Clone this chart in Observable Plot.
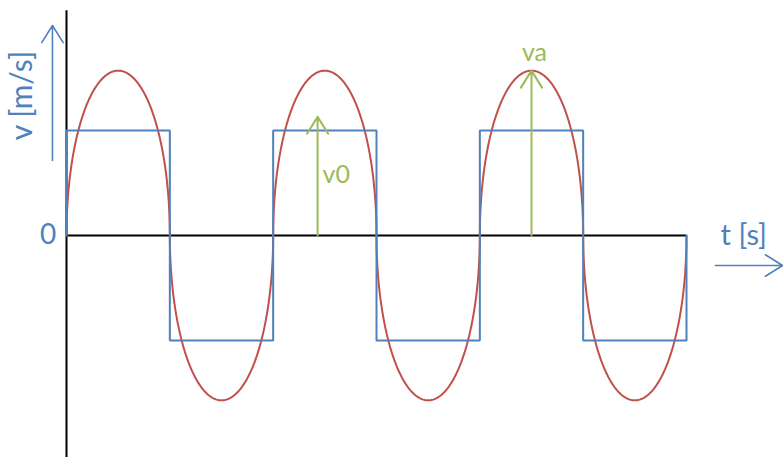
<!DOCTYPE html>
<html>
<head>
<meta charset="utf-8">
<script src="https://cdn.jsdelivr.net/npm/d3@7"></script>
<script src="https://cdn.jsdelivr.net/npm/@observablehq/plot@0.6"></script>
<style>
  html, body { margin: 0; padding: 0; background: #fff; }
  svg { display: block; }
</style>
</head>
<body>
<div id="chart"></div>
<script>
// ---- data (time in s, velocity in m/s; period T = 1 s) ----
const period = 1;             // s
const tEnd = 3;               // s (three periods shown)
const v0 = 1;                 // square-wave amplitude
const va = 1.57;              // peak of the red (rounded) wave
// half-period boundaries and sign of each red hump
const humpStart = [0, 0.5, 1, 1.5, 2, 2.5];
const humpSign = [1, -1, 1, -1, 1, -1];
// square-wave corner points
const squareT = [0, 0, 0.5, 0.5, 1, 1, 1.5, 1.5, 2, 2, 2.5, 2.5, 3, 3];
const squareV = [0, 1, 1, -1, -1, 1, 1, -1, -1, 1, 1, -1, -1, 0];
// annotation arrows (green)
const v0Arrow = { t: 1.215, from: 0, to: 1.13, label: "v0" };
const vaArrow = { t: 2.25, from: 0, to: 1.57, label: "va" };
// axis extents
const vAxisTop = 2.14, vAxisBottom = -2.2;
// axis-name arrows (blue)
const vNameArrow = { t: -0.068, from: 0.714, to: 2.0 };
const tNameArrow = { v: -0.286, from: 3.14, to: 3.465 };
const labels = { v: "v [m/s]", t: "t [s]", zero: "0" };

const blue = "#4f81bd", red = "#c0504d", green = "#9bbb59";

const square = squareT.map((t, i) => ({ t, v: squareV[i] }));
// each hump of the red wave is a half ellipse spanning one half-period
const half = period / 2;
const red_pts = [];
humpStart.forEach((t0, k) => {
  const n = 200;
  for (let i = (k === 0 ? 0 : 1); i <= n; i++) {
    const a = Math.PI * i / n;              // 0..π
    const t = t0 + half * (1 - Math.cos(a)) / 2;
    red_pts.push({ t, v: humpSign[k] * va * Math.sin(a) });
  }
});

const font = "Lato, 'Open Sans', sans-serif";

const chart = Plot.plot({
  width: 783,
  height: 457,
  margin: 0,
  style: { background: "#fff", fontFamily: font },
  x: { domain: [0, tEnd], range: [66, 686], axis: null },
  y: { domain: [-1, 1], range: [340, 130], axis: null },
  marks: [
    // axes
    Plot.ruleX([0], { y1: vAxisBottom, y2: vAxisTop, stroke: "#000", strokeWidth: 2 }),
    Plot.ruleY([0], { x1: 0, x2: tEnd, stroke: "#000", strokeWidth: 2 }),
    // rounded wave
    Plot.line(red_pts, { x: "t", y: "v", stroke: red, strokeWidth: 2 }),
    // square wave
    Plot.line(square, { x: "t", y: "v", stroke: blue, strokeWidth: 2, strokeLinejoin: "miter" }),
    // green arrows
    Plot.arrow([v0Arrow, vaArrow], {
      x1: "t", x2: "t", y1: "from", y2: "to",
      stroke: green, strokeWidth: 2, headLength: 15, headAngle: 64
    }),
    Plot.text([v0Arrow], { x: d => d.t, y: 0.58, text: "label", fill: green, fontSize: 25, textAnchor: "start", dx: 5 }),
    Plot.text([vaArrow], { x: d => d.t, y: 1.74, text: "label", fill: green, fontSize: 25, dx: 3 }),
    // blue axis-name arrows
    Plot.arrow([vNameArrow], {
      x1: "t", x2: "t", y1: "from", y2: "to",
      stroke: blue, strokeWidth: 1.6, headLength: 19, headAngle: 64
    }),
    Plot.arrow([tNameArrow], {
      x1: "from", x2: "to", y1: "v", y2: "v",
      stroke: blue, strokeWidth: 1.6, headLength: 19, headAngle: 64
    }),
    Plot.text([labels.v], { x: -0.213, y: 1.333, text: d => d, rotate: -90, fill: blue, fontSize: 30 }),
    Plot.text([labels.t], { x: 3.165, y: 0, text: d => d, fill: blue, fontSize: 29, textAnchor: "start" }),
    Plot.text([labels.zero], { x: -0.05, y: 0, text: d => d, fill: blue, fontSize: 28, textAnchor: "end" })
  ]
});
document.getElementById("chart").appendChild(chart);
</script>
</body>
</html>
